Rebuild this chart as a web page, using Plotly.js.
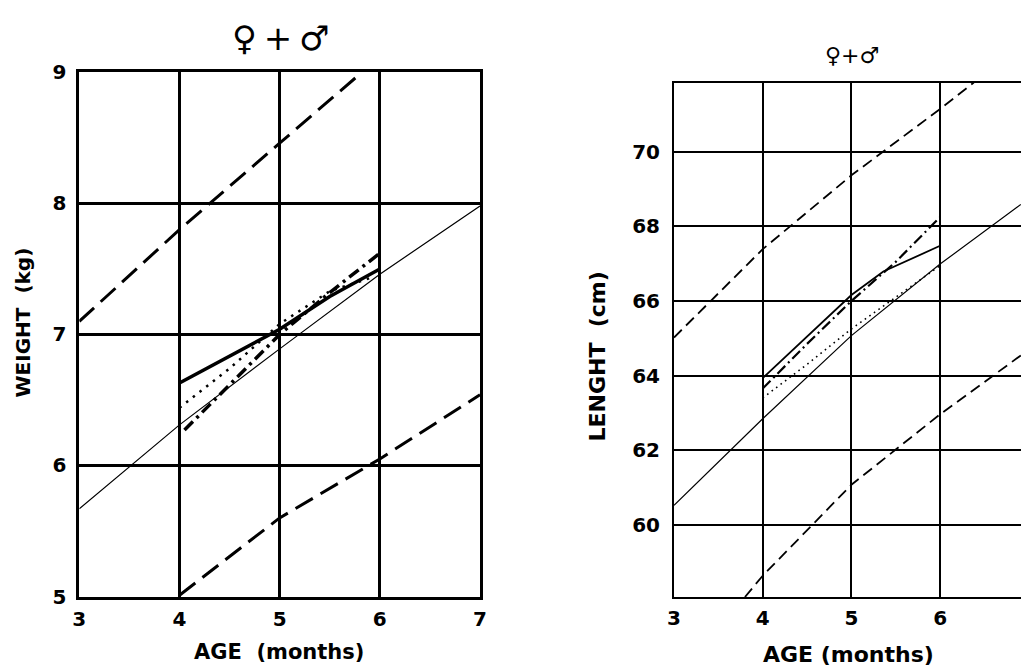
<!DOCTYPE html>
<html>
<head>
<meta charset="utf-8">
<script src="https://cdn.plot.ly/plotly-3.0.1.min.js"></script>
<style>html,body{margin:0;padding:0;background:#fff;}#chart{width:1021px;height:668px;}</style>
</head>
<body>
<div id="chart"></div>
<script>
// ---------- WEIGHT (left chart) ----------
const upperDashAgeW = [3, 4, 5, 5.82];
const upperDashW    = [7.10, 7.80, 8.46, 9.0];
const lowerDashAgeW = [4, 5, 6, 7];
const lowerDashW    = [5.01, 5.60, 6.05, 6.54];
const thinAgeW      = [3, 4, 5, 6, 7];
const thinW         = [5.67, 6.31, 6.89, 7.46, 7.98];
const solidAgeW     = [4, 5, 5.5, 6];
const solidW        = [6.63, 7.04, 7.29, 7.50];
const dottedAgeW    = [4, 4.5, 5, 5.5, 5.9];
const dottedW       = [6.44, 6.74, 7.08, 7.33, 7.43];
const dashDotAgeW   = [4.05, 4.5, 5, 5.5, 6];
const dashDotW      = [6.27, 6.62, 7.0, 7.32, 7.62];
const ticksAgeW     = [3, 4, 5, 6, 7];
const ticksWeight   = [5, 6, 7, 8, 9];

// ---------- LENGTH (right chart) ----------
const upperDashAgeL = [3, 4, 5, 6, 6.38];
const upperDashL    = [65.02, 67.39, 69.37, 71.15, 71.86];
const lowerDashAgeL = [3.8, 4, 5, 6, 6.91];
const lowerDashL    = [58.06, 58.63, 61.07, 62.96, 64.54];
const thinAgeL      = [3, 4, 5, 6, 6.91];
const thinL         = [60.52, 62.84, 65.07, 66.99, 68.59];
const solidAgeL     = [4, 4.5, 5, 5.36, 6];
const solidL        = [63.93, 65.05, 66.16, 66.79, 67.48];
const dashDotAgeL   = [4, 4.5, 5, 5.5, 6];
const dashDotL      = [63.65, 64.85, 66.0, 67.05, 68.25];
const dottedAgeL    = [4, 4.5, 5, 5.5, 6];
const dottedL       = [63.4, 64.3, 65.25, 66.1, 66.95];
const ticksAgeL     = [3, 4, 5, 6];
const ticksLength   = [60, 62, 64, 66, 68, 70];

const FONT = '"DejaVu Sans", "Liberation Sans", Arial, sans-serif';
const K = '#000';

function ln(x, y, xa, ya, width, dash) {
  return {x: x, y: y, xaxis: xa, yaxis: ya, type: 'scatter', mode: 'lines',
          line: {color: K, width: width, dash: dash}, hoverinfo: 'skip', showlegend: false};
}

const data = [
  ln(upperDashAgeW, upperDashW, 'x', 'y', 3, '20px,9px'),
  ln(lowerDashAgeW, lowerDashW, 'x', 'y', 3, '20px,9px'),
  ln(thinAgeW, thinW, 'x', 'y', 1.2, 'solid'),
  ln(dottedAgeW, dottedW, 'x', 'y', 2.5, '2.5px,6px'),
  ln(dashDotAgeW, dashDotW, 'x', 'y', 3.5, '12px,5px,3px,5px'),
  ln(solidAgeW, solidW, 'x', 'y', 3.5, 'solid'),

  ln(upperDashAgeL, upperDashL, 'x2', 'y2', 1.8, '11px,6px'),
  ln(lowerDashAgeL, lowerDashL, 'x2', 'y2', 1.8, '11px,6px'),
  ln(thinAgeL, thinL, 'x2', 'y2', 1.2, 'solid'),
  ln(dottedAgeL, dottedL, 'x2', 'y2', 1.6, '1.6px,4px'),
  ln(dashDotAgeL, dashDotL, 'x2', 'y2', 2.2, '11px,4px,2px,4px'),
  ln(solidAgeL, solidL, 'x2', 'y2', 1.8, 'solid')
];

const W = 1021, H = 668;
const px = v => v / W;
const py = v => 1 - v / H;

function axisBase(extra) {
  return Object.assign({
    showline: true, linecolor: K, mirror: true,
    showgrid: true, gridcolor: K, zeroline: false,
    ticks: '', ticklabelstandoff: 2, tickmode: 'array',
    fixedrange: true
  }, extra);
}

const layout = {
  width: W, height: H,
  margin: {l: 0, r: 0, t: 0, b: 0},
  paper_bgcolor: '#fff', plot_bgcolor: '#fff',
  showlegend: false,
  xaxis: axisBase({domain: [px(79.3), px(480)], range: [3, 7], anchor: 'y',
    linewidth: 3, gridwidth: 3, tickvals: ticksAgeW, ticktext: ticksAgeW.map(String),
    tickfont: {family: FONT, size: 20, color: K, weight: 'bold'}}),
  yaxis: axisBase({domain: [py(596.5), py(72.4)], range: [5, 9], anchor: 'x',
    linewidth: 3, gridwidth: 3, tickvals: ticksWeight, ticktext: ticksWeight.map(String),
    ticklabelstandoff: 6,
    tickfont: {family: FONT, size: 20, color: K, weight: 'bold'}}),
  xaxis2: axisBase({domain: [px(674), 1], range: [3, 3 + (W - 674) / 88.7], anchor: 'y2',
    linewidth: 2, gridwidth: 2, tickvals: ticksAgeL, ticktext: ticksAgeL.map(String),
    tickfont: {family: FONT, size: 20, color: K, weight: 'bold'}}),
  yaxis2: axisBase({domain: [py(597), py(82.5)], range: [58.06, 71.86], anchor: 'x2',
    mirror: false, linewidth: 2, gridwidth: 2, tickvals: ticksLength, ticktext: ticksLength.map(String),
    ticklabelstandoff: 8,
    tickfont: {family: FONT, size: 20, color: K, weight: 'bold'}}),
  annotations: [
    {text: '\u2640\u2009+\u2009\u2642', xref: 'paper', yref: 'paper', x: px(280), y: py(38),
     xanchor: 'center', yanchor: 'middle', showarrow: false,
     font: {family: FONT, size: 34, color: K}},
    {text: '\u2640+\u2642', xref: 'paper', yref: 'paper', x: px(852), y: py(55),
     xanchor: 'center', yanchor: 'middle', showarrow: false,
     font: {family: FONT, size: 22, color: K}},
    {text: 'AGE  (months)', xref: 'paper', yref: 'paper', x: px(278.5), y: py(652),
     xanchor: 'center', yanchor: 'middle', showarrow: false,
     font: {family: FONT, size: 21, color: K, weight: 'bold'}},
    {text: 'WEIGHT  (kg)', xref: 'paper', yref: 'paper', x: px(22), y: py(322.5),
     xanchor: 'center', yanchor: 'middle', showarrow: false, textangle: -90,
     font: {family: FONT, size: 20, color: K, weight: 'bold'}},
    {text: 'AGE (months)', xref: 'paper', yref: 'paper', x: px(848.5), y: py(654),
     xanchor: 'center', yanchor: 'middle', showarrow: false,
     font: {family: FONT, size: 22, color: K, weight: 'bold'}},
    {text: 'LENGHT  (cm)', xref: 'paper', yref: 'paper', x: px(597), y: py(356.5),
     xanchor: 'center', yanchor: 'middle', showarrow: false, textangle: -90,
     font: {family: FONT, size: 22, color: K, weight: 'bold'}},
    {text: '7', xref: 'paper', yref: 'paper', x: px(1028), y: py(614),
     xanchor: 'center', yanchor: 'middle', showarrow: false,
     font: {family: FONT, size: 20, color: K, weight: 'bold'}}
  ]
};

Plotly.newPlot('chart', data, layout, {displayModeBar: false, staticPlot: true});
</script>
</body>
</html>
